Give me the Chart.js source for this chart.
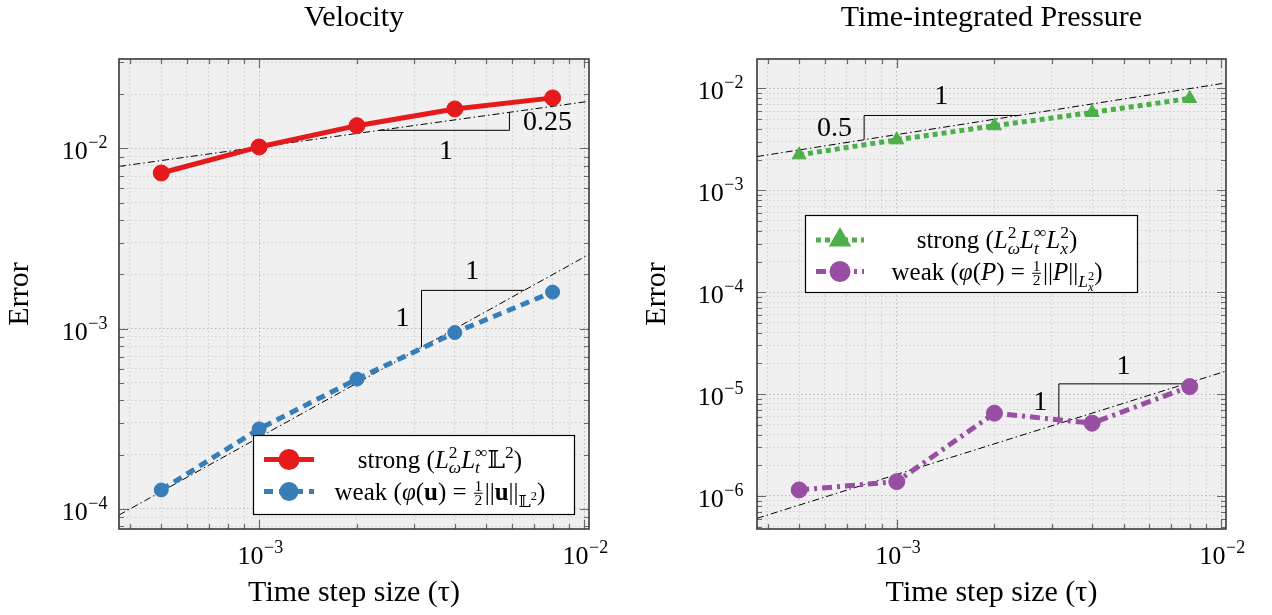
<!DOCTYPE html>
<html><head><meta charset="utf-8">
<script src="https://cdn.jsdelivr.net/npm/chart.js@4.4.1/dist/chart.umd.min.js"></script>
<style>
html,body{margin:0;padding:0;background:#fff;}
#wrap{position:relative;width:1272px;height:615px;overflow:hidden;}
#c1{position:absolute;left:0;top:0;}
#c2{position:absolute;left:630px;top:0;}
</style></head><body>
<div id="wrap"><canvas id="c1" width="630" height="615"></canvas><canvas id="c2" width="642" height="615"></canvas></div>
<script>
// ---------------- data ----------------
const timeSteps   = [5e-4, 1e-3, 2e-3, 4e-3, 8e-3];
const velStrong   = [7.30e-3, 1.018e-2, 1.336e-2, 1.654e-2, 1.905e-2];
const velWeak     = [1.274e-4, 2.78e-4, 5.25e-4, 9.51e-4, 1.595e-3];
const presStrong  = [2.23e-3, 3.13e-3, 4.30e-3, 5.81e-3, 7.97e-3];
const presWeak    = [1.146e-6, 1.382e-6, 6.49e-6, 5.18e-6, 1.185e-5];
// reference slope lines (end points) and slope triangles
const velRefStrong  = [[3.707e-4, 7.94e-3], [1.035e-2, 1.824e-2]];
const velTriStrong  = [[2.34e-3, 1.259e-2], [5.89e-3, 1.259e-2], [5.89e-3, 1.585e-2]];
const velRefWeak    = [[3.707e-4, 9.25e-5], [1.035e-2, 2.58e-3]];
const velTriWeak    = [[3.16e-3, 7.88e-4], [3.16e-3, 1.63e-3], [6.54e-3, 1.63e-3]];
const presRefStrong = [[3.707e-4, 2.145e-3], [1.035e-2, 1.133e-2]];
const presTriStrong = [[7.93e-4, 3.14e-3], [7.93e-4, 5.43e-3], [2.37e-3, 5.43e-3]];
const presRefWeak   = [[3.707e-4, 6.03e-7], [1.035e-2, 1.68e-5]];
const presTriWeak   = [[3.16e-3, 5.13e-6], [3.16e-3, 1.26e-5], [7.76e-3, 1.26e-5]];
// tick labels: [mantissa, exponent]
const xTickValues = [1e-3, 1e-2];
const xTickLabels = [['10', '−3'], ['10', '−2']];
const velYTickValues = [1e-4, 1e-3, 1e-2];
const velYTickLabels = [['10', '−4'], ['10', '−3'], ['10', '−2']];
const presYTickValues = [1e-6, 1e-5, 1e-4, 1e-3, 1e-2];
const presYTickLabels = [['10', '−6'], ['10', '−5'], ['10', '−4'], ['10', '−3'], ['10', '−2']];
// slope labels
const velSlopeLabels  = [{t:'0.25', x:7.71e-3, y:1.39e-2}, {t:'1', x:3.76e-3, y:9.62e-3}, {t:'1', x:2.76e-3, y:1.136e-3}, {t:'1', x:4.53e-3, y:2.08e-3}];
const presSlopeLabels = [{t:'0.5', x:6.43e-4, y:3.99e-3}, {t:'1', x:1.371e-3, y:8.23e-3}, {t:'1', x:2.77e-3, y:8.15e-6}, {t:'1', x:5.0e-3, y:1.862e-5}];

// ---------------- styling ----------------
const SERIF = '"Liberation Serif", "DejaVu Serif", serif';
const RED = '#e41a1c', BLUE = '#377eb8', GREEN = '#4daf4a', PURPLE = '#984ea3';
const X_MIN = 3.707e-4, X_MAX = 1.035e-2;

function pts(xs, ys) { return xs.map((x, i) => ({x: x, y: ys[i]})); }
function pairs(arr) { return arr.map(p => ({x: p[0], y: p[1]})); }
function isDecade(v) { const l = Math.log10(v); return Math.abs(l - Math.round(l)) < 1e-7; }
function logTicks(min, max) {
  const out = [];
  for (let e = Math.floor(Math.log10(min)); e <= Math.ceil(Math.log10(max)); e++) {
    for (let m = 1; m <= 9; m++) {
      const v = parseFloat((m * Math.pow(10, e)).toPrecision(8));
      if (v >= min && v <= max) out.push({value: v, major: m === 1});
    }
  }
  return out;
}

// rich text for legend entries
function fontFor(sg, base) {
  return (sg.it ? 'italic ' : '') + (sg.b ? 'bold ' : '') + (base * (sg.s || 1)).toFixed(2) + 'px ' + SERIF;
}
function runRich(ctx, segs, x, y, base, draw) {
  let cx = x;
  for (const sg of segs) {
    if (sg.stack) {
      let w = 0;
      for (const s2 of sg.stack) w = Math.max(w, runRich(ctx, [s2], cx, y, base, draw));
      cx += w;
    } else if (sg.frac) {
      const sz = base * 0.62;
      ctx.font = sz.toFixed(2) + 'px ' + SERIF;
      const w = Math.max(ctx.measureText(sg.frac[0]).width, ctx.measureText(sg.frac[1]).width) + 3;
      if (draw) {
        ctx.textAlign = 'center';
        ctx.fillText(sg.frac[0], cx + w / 2, y - base * 0.34);
        ctx.fillText(sg.frac[1], cx + w / 2, y + base * 0.22);
        ctx.fillRect(cx + 1, y - base * 0.27, w - 2, 1);
        ctx.textAlign = 'left';
      }
      cx += w + 1;
    } else {
      ctx.font = fontFor(sg, base);
      const w = ctx.measureText(sg.t).width;
      if (draw) { ctx.textAlign = 'left'; ctx.fillText(sg.t, cx, y + (sg.dy || 0) * base); }
      cx += w;
    }
  }
  return cx - x;
}
const SUP = (t, it) => ({t: t, s: 0.7, dy: -0.4, it: it});
const SUB = (t, it) => ({t: t, s: 0.7, dy: 0.22, it: it});

const velLegend = {
  box: [253, 435, 574, 514], sample: [264, 314], textX: 440,
  rows: [
    {y: 459.5, color: RED, dash: [], width: 5, style: 'circle', r: 8,
     segs: [{t: 'strong ('}, {t: 'L', it: 1}, {stack: [SUP('2'), SUB('ω', 1)]}, {t: 'L', it: 1}, {stack: [SUP('∞'), SUB('t', 1)]}, {t: '𝕃'}, SUP('2'), {t: ')'}]},
    {y: 491.5, color: BLUE, dash: [9, 6], width: 5, style: 'circle', r: 7,
     segs: [{t: 'weak ('}, {t: 'φ', it: 1}, {t: '('}, {t: 'u', b: 1}, {t: ') = '}, {frac: ['1', '2']}, {t: '||'}, {t: 'u', b: 1}, {t: '||'}, {t: '𝕃', s: 0.7, dy: 0.28}, {t: '2', s: 0.5, dy: 0.02}, {t: ')'}]}
  ]
};
const presLegend = {
  box: [805, 215, 1137, 292], sample: [816, 864], textX: 997,
  rows: [
    {y: 240, color: GREEN, dash: [5, 4], width: 5, style: 'triangle', r: 8,
     segs: [{t: 'strong ('}, {t: 'L', it: 1}, {stack: [SUP('2'), SUB('ω', 1)]}, {t: 'L', it: 1}, {stack: [SUP('∞'), SUB('t', 1)]}, {t: 'L', it: 1}, {stack: [SUP('2'), SUB('x', 1)]}, {t: ')'}]},
    {y: 271.5, color: PURPLE, dash: [10, 5, 3, 5], width: 5, style: 'circle', r: 8,
     segs: [{t: 'weak ('}, {t: 'φ', it: 1}, {t: '('}, {t: 'P', it: 1}, {t: ') = '}, {frac: ['1', '2']}, {t: '||'}, {t: 'P', it: 1}, {t: '||'}, {t: 'L', it: 1, s: 0.7, dy: 0.3}, {stack: [{t: '2', s: 0.5, dy: 0.02}, {t: 'x', it: 1, s: 0.5, dy: 0.45}]}, {t: ')'}]}
  ]
};

function tickLabelFor(v, vals, labels) {
  for (let i = 0; i < vals.length; i++) if (Math.abs(v / vals[i] - 1) < 1e-6) return labels[i];
  return null;
}

function decorPlugin(cfg) {
  return {
    id: 'decor',
    beforeDraw(chart) {
      const {ctx, chartArea: a} = chart;
      ctx.save(); ctx.fillStyle = '#f0f0f0';
      ctx.fillRect(a.left, a.top, a.right - a.left, a.bottom - a.top);
      ctx.restore();
    },
    afterDatasetsDraw(chart) {
      const {ctx, chartArea: a} = chart;
      const xs = chart.scales.x, ys = chart.scales.y;
      ctx.save();
      // inward ticks
      ctx.strokeStyle = '#6a6a6a'; ctx.lineWidth = 1.2; ctx.setLineDash([]);
      ctx.beginPath();
      for (const t of xs.ticks) {
        const p = Math.round(xs.getPixelForValue(t.value)) + 0.5, L = isDecade(t.value) ? 9 : 5;
        ctx.moveTo(p, a.bottom); ctx.lineTo(p, a.bottom - L);
        ctx.moveTo(p, a.top); ctx.lineTo(p, a.top + L);
      }
      for (const t of ys.ticks) {
        const p = Math.round(ys.getPixelForValue(t.value)) + 0.5, L = isDecade(t.value) ? 9 : 5;
        ctx.moveTo(a.left, p); ctx.lineTo(a.left + L, p);
        ctx.moveTo(a.right, p); ctx.lineTo(a.right - L, p);
      }
      ctx.stroke();
      // frame
      ctx.strokeStyle = '#3a3a3a'; ctx.lineWidth = 1.6;
      ctx.strokeRect(a.left, a.top, a.right - a.left, a.bottom - a.top);
      // tick labels (10 with raised exponent)
      ctx.fillStyle = '#000'; ctx.textBaseline = 'alphabetic'; ctx.textAlign = 'left';
      const bigF = '26px ' + SERIF, smallF = '18px ' + SERIF;
      const measure = lab => { ctx.font = bigF; const w1 = ctx.measureText(lab[0]).width; ctx.font = smallF; const w2 = ctx.measureText(lab[1]).width; return [w1, w2]; };
      const drawLab = (lab, x, y, dyExp) => { const [w1] = measure(lab); ctx.font = bigF; ctx.fillText(lab[0], x, y); ctx.font = smallF; ctx.fillText(lab[1], x + w1 + 0.5, y + dyExp); };
      for (const t of xs.ticks) {
        const lab = tickLabelFor(t.value, xTickValues, xTickLabels);
        if (!lab) continue;
        const [w1, w2] = measure(lab);
        drawLab(lab, xs.getPixelForValue(t.value) - (w1 + w2) / 2 + 1, a.bottom + 34.5, -10.5);
      }
      for (const t of ys.ticks) {
        const lab = tickLabelFor(t.value, cfg.yTickValues, cfg.yTickLabels);
        if (!lab) continue;
        const [w1, w2] = measure(lab);
        drawLab(lab, a.left - cfg.yPad - (w1 + w2), ys.getPixelForValue(t.value) + 11, -11);
      }
      // slope labels
      ctx.fillStyle = '#000'; ctx.font = '28px ' + SERIF; ctx.textAlign = 'center'; ctx.textBaseline = 'middle';
      for (const l of cfg.slopeLabels) ctx.fillText(l.t, xs.getPixelForValue(l.x), ys.getPixelForValue(l.y));
      // legend
      const lg = cfg.legend, off = cfg.offsetX;
      const b = lg.box.map((v, i) => i % 2 === 0 ? v - off : v);
      ctx.fillStyle = '#fff'; ctx.fillRect(b[0], b[1], b[2] - b[0], b[3] - b[1]);
      ctx.strokeStyle = '#000'; ctx.lineWidth = 1.2; ctx.strokeRect(b[0] + 0.5, b[1] + 0.5, b[2] - b[0], b[3] - b[1]);
      ctx.textBaseline = 'alphabetic';
      for (const r of lg.rows) {
        ctx.strokeStyle = r.color; ctx.fillStyle = r.color; ctx.lineWidth = r.width; ctx.setLineDash(r.dash);
        ctx.beginPath(); ctx.moveTo(lg.sample[0] - off, r.y); ctx.lineTo(lg.sample[1] - off, r.y); ctx.stroke();
        ctx.setLineDash([]);
        Chart.helpers.drawPoint(ctx, {pointStyle: r.style, radius: r.r, rotation: 0, borderWidth: 1}, (lg.sample[0] + lg.sample[1]) / 2 - off, r.y);
        ctx.fillStyle = '#000';
        const base = 25;
        const w = runRich(ctx, r.segs, 0, 0, base, false);
        runRich(ctx, r.segs, lg.textX - off - w / 2, r.y + 8, base, true);
      }
      ctx.restore();
    }
  };
}

function lineDs(data, color, dash, style, r, order) {
  return {data: data, borderColor: color, backgroundColor: color, borderWidth: 5, borderDash: dash,
    pointStyle: style, pointRadius: r, pointBackgroundColor: color, pointBorderColor: color, pointBorderWidth: 1,
    tension: 0, order: order, clip: false};
}
function refDs(data, dash) {
  return {data: data, borderColor: '#000', borderWidth: 1, borderDash: dash, pointRadius: 0, tension: 0, order: 2, clip: false};
}

function makeChart(canvas, cfg) {
  return new Chart(canvas, {
    type: 'line',
    data: {datasets: cfg.datasets},
    options: {
      responsive: false, animation: false, devicePixelRatio: 1, events: [],
      layout: {padding: {left: 0, right: cfg.padRight, top: 0, bottom: 0}},
      plugins: {
        legend: {display: false}, tooltip: {enabled: false},
        title: {display: true, fullSize: false, text: cfg.title, color: '#000',
          font: {family: SERIF, size: 30, weight: 'normal', lineHeight: 1.2}, padding: {top: 0, bottom: 23}}
      },
      scales: {
        x: {
          type: 'logarithmic', min: X_MIN, max: X_MAX,
          afterBuildTicks: s => { s.ticks = logTicks(X_MIN, X_MAX); },
          afterFit: s => { s.height = 86; },
          ticks: {display: false, autoSkip: false, maxRotation: 0},
          grid: {drawTicks: false, lineWidth: 1, color: c => (c.tick && isDecade(c.tick.value)) ? '#b9b9b9' : '#d0d0d0'},
          border: {display: false, dash: [1.5, 2.5]},
          title: {display: true, text: 'Time step size (τ)', color: '#000', font: {family: SERIF, size: 30, lineHeight: 1.2}, padding: {top: 0, bottom: 4}}
        },
        y: {
          type: 'logarithmic', min: cfg.yMin, max: cfg.yMax,
          afterBuildTicks: s => { s.ticks = logTicks(cfg.yMin, cfg.yMax); },
          afterFit: s => { s.width = cfg.yWidth; },
          ticks: {display: false, autoSkip: false},
          grid: {drawTicks: false, lineWidth: 1, color: c => (c.tick && isDecade(c.tick.value)) ? '#b9b9b9' : '#d0d0d0'},
          border: {display: false, dash: [1.5, 2.5]},
          title: {display: true, text: 'Error', color: '#000', font: {family: SERIF, size: 30, lineHeight: 1.2}, padding: {top: cfg.yTitlePad, bottom: 0}}
        }
      }
    },
    plugins: [decorPlugin(cfg)]
  });
}

makeChart(document.getElementById('c1'), {
  title: 'Velocity', padRight: 41, yWidth: 119, yPad: 12, yTitlePad: 2.5,
  yMin: 7.74e-5, yMax: 3.13e-2, yTickValues: velYTickValues, yTickLabels: velYTickLabels,
  slopeLabels: velSlopeLabels, legend: velLegend, offsetX: 0,
  datasets: [
    lineDs(pts(timeSteps, velStrong), RED, [], 'circle', 8, 0),
    lineDs(pts(timeSteps, velWeak), BLUE, [9, 6], 'circle', 7, 1),
    refDs(pairs(velRefStrong), [7, 3, 1.5, 3]),
    refDs(pairs(velTriStrong), []),
    refDs(pairs(velRefWeak), [7, 3, 1.5, 3]),
    refDs(pairs(velTriWeak), [])
  ]
});
makeChart(document.getElementById('c2'), {
  title: 'Time-integrated Pressure', padRight: 46, yWidth: 127, yPad: 14, yTitlePad: 9.5,
  yMin: 4.74e-7, yMax: 1.945e-2, yTickValues: presYTickValues, yTickLabels: presYTickLabels,
  slopeLabels: presSlopeLabels, legend: presLegend, offsetX: 630,
  datasets: [
    lineDs(pts(timeSteps, presStrong), GREEN, [5, 4], 'triangle', 8, 0),
    lineDs(pts(timeSteps, presWeak), PURPLE, [10, 5, 3, 5], 'circle', 8, 1),
    refDs(pairs(presRefStrong), [7, 3, 1.5, 3]),
    refDs(pairs(presTriStrong), []),
    refDs(pairs(presRefWeak), [7, 3, 1.5, 3]),
    refDs(pairs(presTriWeak), [])
  ]
});
</script>
</body></html>
